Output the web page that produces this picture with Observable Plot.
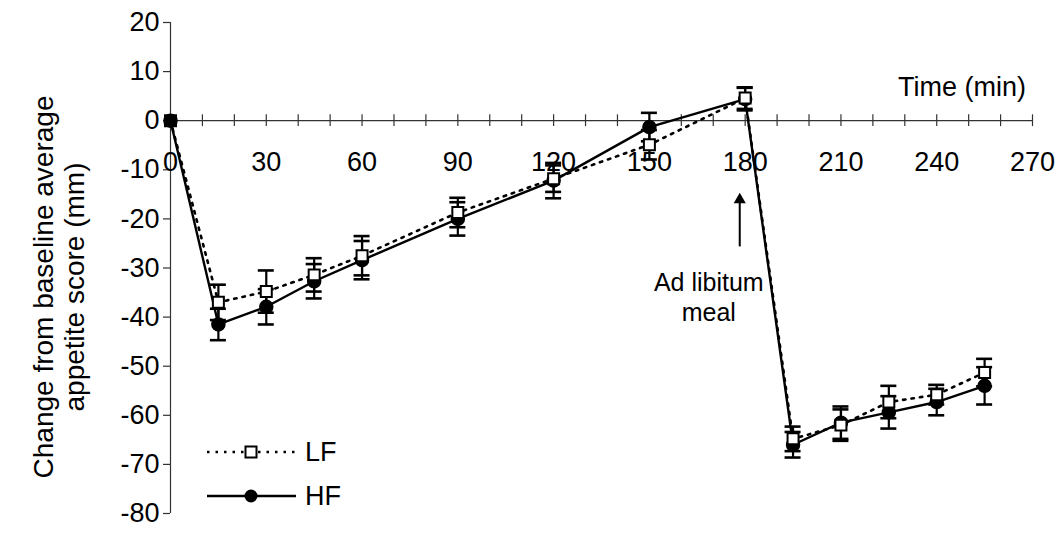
<!DOCTYPE html>
<html><head><meta charset="utf-8">
<script src="https://cdn.jsdelivr.net/npm/d3@7"></script>
<script src="https://cdn.jsdelivr.net/npm/@observablehq/plot@0.6"></script>
<style>
body{margin:0;background:#fff}
#chart svg{font-family:"Liberation Sans",Arial,Helvetica,sans-serif;overflow:visible}
</style>
</head><body><div id="chart"></div>
<script>
const times = [0, 15, 30, 45, 60, 90, 120, 150, 180, 195, 210, 225, 240, 255];
const lfMean = [0, -37, -34.8, -31.4, -27.5, -18.7, -11.8, -4.9, 4.6, -64.8, -62, -57.3, -55.8, -51.3];
const lfSE   = [0, 3.6, 4.3, 3.4, 4.0, 3.0, 2.7, 3.0, 2.2, 2.5, 3.2, 3.3, 2.0, 2.8];
const hfMean = [0, -41.5, -37.9, -32.7, -28.4, -20, -12.2, -1.3, 4.4, -66, -61.5, -59.4, -57.3, -54];
const hfSE   = [0, 3.2, 3.6, 3.5, 3.9, 3.4, 3.6, 2.9, 2.3, 2.6, 3.3, 3.3, 2.7, 3.8];
const seriesNames = ["LF", "HF"];
const xTicks = d3.range(0, 271, 10);
const xLabels = [0, 30, 60, 90, 120, 150, 180, 210, 240, 270];
const yTicks = [-80, -70, -60, -50, -40, -30, -20, -10, 0, 10, 20];
const xTitle = "Time (min)";
const yTitle = "Change from baseline average\nappetite score (mm)";
const annotation = {t: 178.3, text: "Ad libitum\nmeal", textT: 168.6, textV: -35.7, arrowFrom: -25.7, arrowTo: -16.1};

const lf = times.map((t, i) => ({t, v: lfMean[i], se: lfSE[i]}));
const hf = times.map((t, i) => ({t, v: hfMean[i], se: hfSE[i]}));
const FS = 27;

const errBars = (data) => [
  Plot.ruleX(data.filter(d => d.se > 0), {x: "t", y1: d => d.v - d.se, y2: d => d.v + d.se, stroke: "black", strokeWidth: 2.2}),
  Plot.ruleY(data.filter(d => d.se > 0), {x1: "t", x2: "t", y: d => d.v + d.se, insetLeft: -8, insetRight: -8, stroke: "black", strokeWidth: 2.6}),
  Plot.ruleY(data.filter(d => d.se > 0), {x1: "t", x2: "t", y: d => d.v - d.se, insetLeft: -8, insetRight: -8, stroke: "black", strokeWidth: 2.6})
];

const plot = Plot.plot({
  width: 1062,
  height: 533,
  marginLeft: 170,
  marginRight: 30,
  marginTop: 22,
  marginBottom: 20,
  x: {domain: [0, 270], axis: null},
  y: {domain: [-80, 20], axis: null},
  style: {fontSize: FS + "px", fontFamily: "'Liberation Sans', Arial, sans-serif", color: "black", background: "white"},
  marks: [
    // y axis
    Plot.ruleX([0], {stroke: "#333", strokeWidth: 1.2}),
    Plot.ruleY(yTicks, {y: d => d, x1: 0, x2: 0, insetLeft: -7, stroke: "#333", strokeWidth: 1.2}),
    Plot.text(yTicks, {y: d => d, x: 0, dx: -11, text: d => String(d), textAnchor: "end", fontSize: FS, fill: "black"}),
    // x axis at y = 0
    Plot.ruleY([0], {stroke: "#333", strokeWidth: 1.2}),
    Plot.ruleX(xTicks, {x: d => d, y1: -1.2, y2: 1.2, stroke: "#333", strokeWidth: 1.2}),
    Plot.text(xLabels, {x: d => d, y: 0, dy: 42, text: d => String(d), fontSize: FS, fill: "black"}),
    Plot.text([xTitle], {x: 268, y: 6.7, text: d => d, textAnchor: "end", fontSize: FS, fill: "black"}),
    // y title
    Plot.text([yTitle], {frameAnchor: "left", dx: -112, dy: 19, rotate: -90, textAnchor: "middle", lineAnchor: "middle", text: d => d, fontSize: 28, lineHeight: 1.1, fill: "black"}),
    // error bars
    ...errBars(hf),
    ...errBars(lf),
    // lines
    Plot.line(lf, {x: "t", y: "v", stroke: "black", strokeWidth: 2.6, strokeDasharray: "2.5,6"}),
    Plot.line(hf, {x: "t", y: "v", stroke: "black", strokeWidth: 2.4}),
    // markers
    Plot.dot(hf, {x: "t", y: "v", r: 6.5, fill: "black", stroke: "black"}),
    Plot.dot(lf, {x: "t", y: "v", symbol: "square", r: 6.2, fill: d => d.t === 0 ? "black" : "white", stroke: "black", strokeWidth: 2}),
    // annotation
    Plot.ruleX([annotation], {x: "t", y1: "arrowFrom", y2: "arrowTo", stroke: "black", strokeWidth: 2}),
    Plot.dot([annotation], {x: "t", y: "arrowTo", symbol: "triangle", r: 4.5, fill: "black", stroke: "none"}),
    Plot.text([annotation], {x: "textT", y: "textV", text: "text", fontSize: 25, lineHeight: 1.2, fill: "black"})
  ]
});
document.getElementById("chart").appendChild(plot);

// legend (inside plot area, lower left)
const svg = d3.select(plot);
const lg = svg.append("g").attr("font-size", FS).attr("text-anchor", "start")
  .attr("font-family", "'Liberation Sans', Arial, sans-serif");
const items = [
  {name: seriesNames[0], y: 452, dash: "2.5,6", sym: "square"},
  {name: seriesNames[1], y: 496, dash: null, sym: "circle"}
];
items.forEach(it => {
  lg.append("line").attr("x1", 207).attr("x2", 296).attr("y1", it.y).attr("y2", it.y)
    .attr("stroke", "black").attr("stroke-width", it.dash ? 2.6 : 2.4).attr("stroke-dasharray", it.dash);
  if (it.sym === "square") {
    lg.append("rect").attr("x", 251 - 5.5).attr("y", it.y - 5.5).attr("width", 11).attr("height", 11)
      .attr("fill", "white").attr("stroke", "black").attr("stroke-width", 2);
  } else {
    lg.append("circle").attr("cx", 251).attr("cy", it.y).attr("r", 6.5).attr("fill", "black");
  }
  lg.append("text").attr("x", 305).attr("y", it.y).attr("dy", "0.35em").attr("fill", "black").text(it.name);
});
</script>
</body></html>
